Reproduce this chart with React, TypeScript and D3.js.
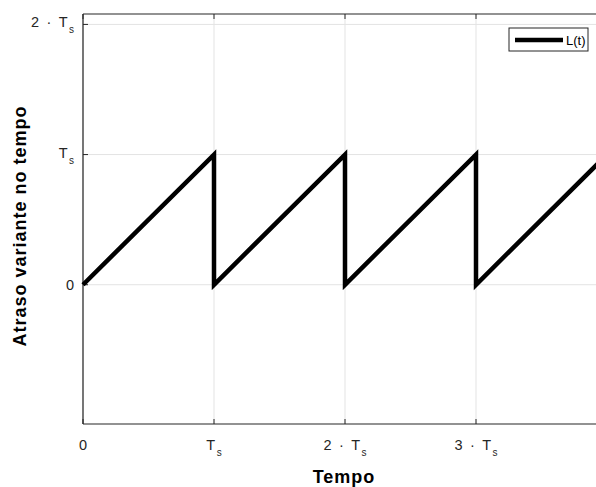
import React from "react";
import * as d3 from "d3";

const timeValues = [0, 1, 1, 2, 2, 3, 3, 4];
const delayValues = [0, 1, 0, 1, 0, 1, 0, 1];
const xTicks = [0, 1, 2, 3];
const yTicks = [0, 1, 2];
const xTickLabels = ["0", "T", "2 · T", "3 · T"];
const yTickLabels = ["0", "T", "2 · T"];
const seriesName = "L(t)";
const xTitle = "Tempo";
const yTitle = "Atraso variante no tempo";

export default function App() {
  const W = 596, H = 487;
  const left = 83, top = 14, bottom = 424;
  const x = d3.scaleLinear().domain([0, 4]).range([left, left + 4 * 131]);
  const y = d3.scaleLinear().domain([-1.07, 2.08]).range([bottom, top]);
  const right = x(4);
  const data = timeValues.map((t, i) => [t, delayValues[i]] as [number, number]);
  const line = d3.line<[number, number]>().x(d => x(d[0])).y(d => y(d[1]));
  const axisColor = "#262626";
  const font = "Liberation Sans, Arial, sans-serif";

  const label = (txt: string, hasSub: boolean) => (
    <>
      {txt}
      {hasSub && <tspan fontSize={10} dx={1.5} dy={6}>s</tspan>}
    </>
  );

  return (
    <svg width={W} height={H} style={{ position: "absolute", left: 0, top: 0, background: "#fff" }}>
      <rect x={0} y={0} width={W} height={H} fill="#fff" />
      {xTicks.map(t => (
        <line key={"gx" + t} x1={x(t)} x2={x(t)} y1={top} y2={bottom} stroke="#e3e3e3" strokeWidth={1} />
      ))}
      {yTicks.map(t => (
        <line key={"gy" + t} x1={left} x2={right} y1={y(t)} y2={y(t)} stroke="#e3e3e3" strokeWidth={1} />
      ))}
      <line x1={left} x2={right} y1={bottom} y2={bottom} stroke={axisColor} strokeWidth={1.2} />
      <line x1={left} x2={right} y1={top} y2={top} stroke={axisColor} strokeWidth={1.2} />
      <line x1={left} x2={left} y1={top} y2={bottom} stroke={axisColor} strokeWidth={1.2} />
      {xTicks.map(t => (
        <g key={"tx" + t}>
          <line x1={x(t)} x2={x(t)} y1={bottom} y2={bottom - 5} stroke={axisColor} />
          <line x1={x(t)} x2={x(t)} y1={top} y2={top + 5} stroke={axisColor} />
        </g>
      ))}
      {yTicks.map(t => (
        <line key={"ty" + t} x1={left} x2={left + 5} y1={y(t)} y2={y(t)} stroke={axisColor} />
      ))}
      {xTicks.map((t, i) => (
        <text key={"lx" + t} x={x(t)} y={450} textAnchor="middle" fontFamily={font} fontSize={14.5}
          wordSpacing={3.5} fill={axisColor} style={{ whiteSpace: "pre" }}>
          {label(xTickLabels[i], i > 0)}
        </text>
      ))}
      {yTicks.map((t, i) => (
        <text key={"ly" + t} x={left - 9} y={y(t) + (i === 0 ? 5 : 3)} textAnchor="end" fontFamily={font} fontSize={14.5}
          wordSpacing={3.5} fill={axisColor} style={{ whiteSpace: "pre" }}>
          {label(yTickLabels[i], i > 0)}
        </text>
      ))}
      <path d={line(data) || ""} fill="none" stroke="#000" strokeWidth={4.5} strokeLinejoin="miter" />
      <text x={344} y={483} textAnchor="middle" fontFamily={font} fontWeight="bold" fontSize={18}
        letterSpacing={1} fill="#000">{xTitle}</text>
      <text transform={`translate(26,226) rotate(-90)`} textAnchor="middle" fontFamily={font} fontWeight="bold"
        fontSize={18} letterSpacing={1} fill="#000">{yTitle}</text>
      <rect x={509} y={28} width={79} height={23} fill="#fff" stroke={axisColor} strokeWidth={1} />
      <line x1={515} x2={563} y1={40} y2={40} stroke="#000" strokeWidth={4.5} />
      <text x={566} y={45} fontFamily={font} fontSize={13} fill="#000">{seriesName}</text>
    </svg>
  );
}
